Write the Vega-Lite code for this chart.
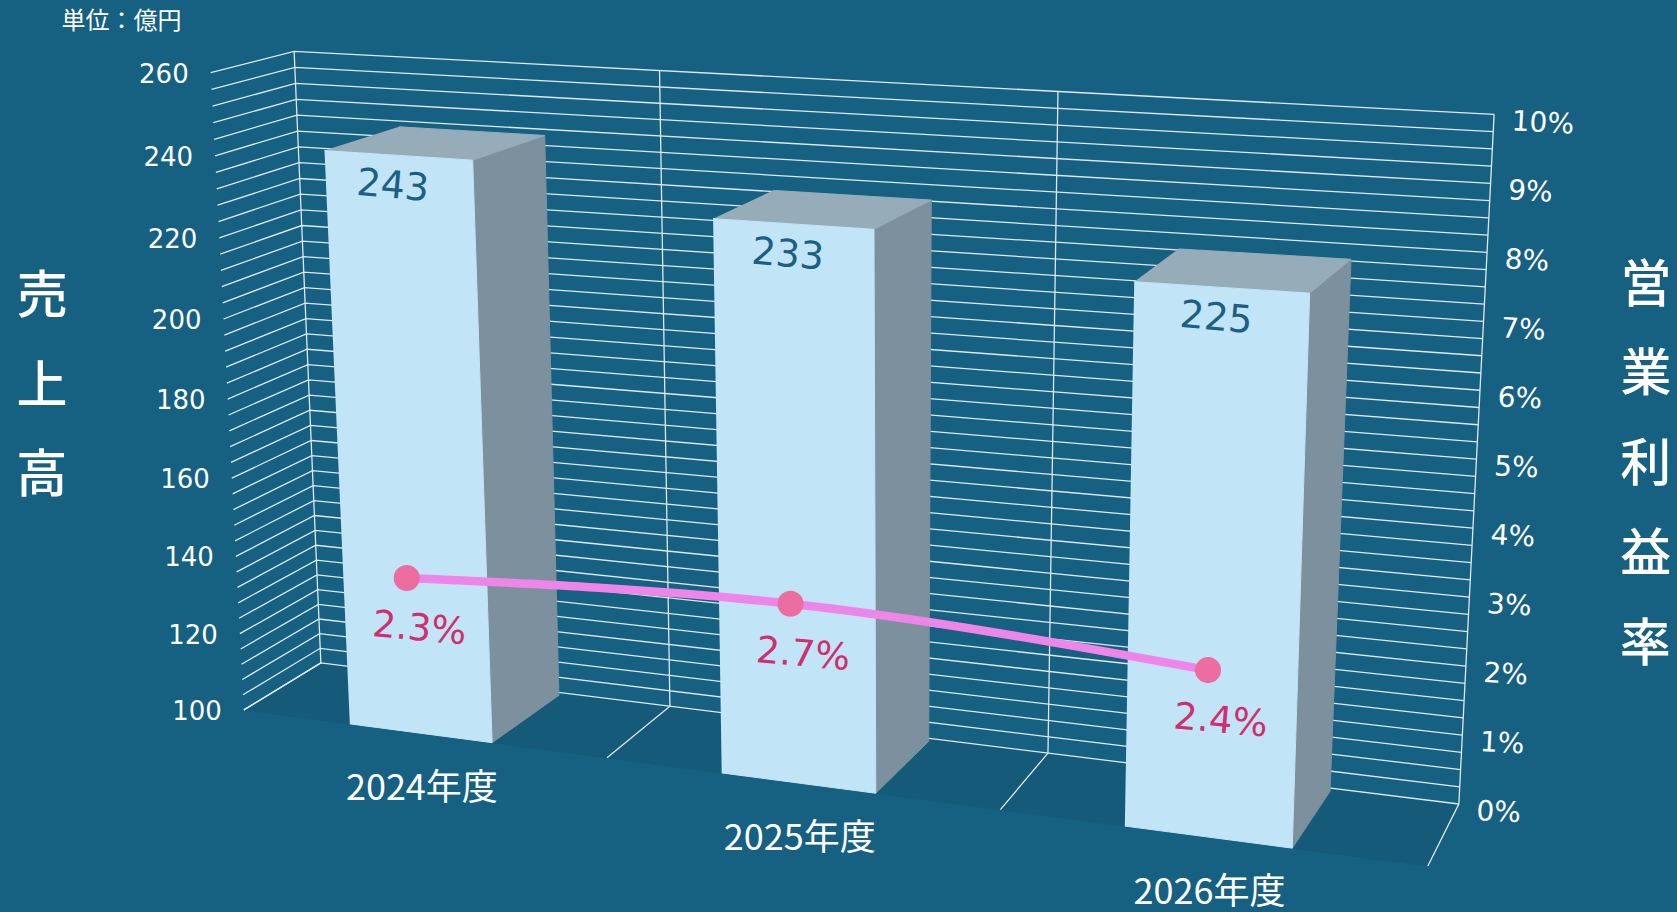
{"$schema":"https://vega.github.io/schema/vega-lite/v6.json","autosize":{"type":"fit","contains":"padding"},"width":1677,"height":912,"padding":0,"background":"#166082","view":{"stroke":null},
"data":{"values":[
{"kind":"floor"},
{"kind":"bar","year":"2024年度","i":0,"sales":243,"margin":2.3,"plotLevel":139.4},
{"kind":"bar","year":"2025年度","i":1,"sales":233,"margin":2.7,"plotLevel":143.4},
{"kind":"bar","year":"2026年度","i":2,"sales":225,"margin":2.4,"plotLevel":138.2},
{"kind":"divider","at":0},{"kind":"divider","at":1},{"kind":"divider","at":2},{"kind":"divider","at":3},
{"kind":"gridLevel","value":100},{"kind":"gridLevel","value":104},{"kind":"gridLevel","value":108},{"kind":"gridLevel","value":112},{"kind":"gridLevel","value":116},{"kind":"gridLevel","value":120},{"kind":"gridLevel","value":124},{"kind":"gridLevel","value":128},{"kind":"gridLevel","value":132},{"kind":"gridLevel","value":136},{"kind":"gridLevel","value":140},{"kind":"gridLevel","value":144},{"kind":"gridLevel","value":148},{"kind":"gridLevel","value":152},{"kind":"gridLevel","value":156},{"kind":"gridLevel","value":160},{"kind":"gridLevel","value":164},{"kind":"gridLevel","value":168},{"kind":"gridLevel","value":172},{"kind":"gridLevel","value":176},{"kind":"gridLevel","value":180},{"kind":"gridLevel","value":184},{"kind":"gridLevel","value":188},{"kind":"gridLevel","value":192},{"kind":"gridLevel","value":196},{"kind":"gridLevel","value":200},{"kind":"gridLevel","value":204},{"kind":"gridLevel","value":208},{"kind":"gridLevel","value":212},{"kind":"gridLevel","value":216},{"kind":"gridLevel","value":220},{"kind":"gridLevel","value":224},{"kind":"gridLevel","value":228},{"kind":"gridLevel","value":232},{"kind":"gridLevel","value":236},{"kind":"gridLevel","value":240},{"kind":"gridLevel","value":244},{"kind":"gridLevel","value":248},{"kind":"gridLevel","value":252},{"kind":"gridLevel","value":256},{"kind":"gridLevel","value":260},
{"kind":"salesTick","value":100},{"kind":"salesTick","value":120},{"kind":"salesTick","value":140},{"kind":"salesTick","value":160},{"kind":"salesTick","value":180},{"kind":"salesTick","value":200},{"kind":"salesTick","value":220},{"kind":"salesTick","value":240},{"kind":"salesTick","value":260},
{"kind":"pctTick","pct":0},{"kind":"pctTick","pct":1},{"kind":"pctTick","pct":2},{"kind":"pctTick","pct":3},{"kind":"pctTick","pct":4},{"kind":"pctTick","pct":5},{"kind":"pctTick","pct":6},{"kind":"pctTick","pct":7},{"kind":"pctTick","pct":8},{"kind":"pctTick","pct":9},{"kind":"pctTick","pct":10},
{"kind":"leftTitle","char":"売","n":0},{"kind":"leftTitle","char":"上","n":1},{"kind":"leftTitle","char":"高","n":2},
{"kind":"rightTitle","char":"営","n":0},{"kind":"rightTitle","char":"業","n":1},{"kind":"rightTitle","char":"利","n":2},{"kind":"rightTitle","char":"益","n":3},{"kind":"rightTitle","char":"率","n":4},
{"kind":"unit","char":"単位：億円"}
]},
"transform":[
{"calculate":"datum.kind=='bar' ? [['front',datum.i+.3,0,100,0],['front',datum.i+.692,0,100,1],['front',datum.i+.692,0,datum.sales,2],['front',datum.i+.3,0,datum.sales,3],['side',datum.i+.692,0,100,0],['side',datum.i+.7,.95,100,1],['side',datum.i+.7,.95,datum.sales,2],['side',datum.i+.692,0,datum.sales,3],['top',datum.i+.3,0,datum.sales,0],['top',datum.i+.692,0,datum.sales,1],['top',datum.i+.7,.95,datum.sales,2],['top',datum.i+.3,.95,datum.sales,3],['salesLabel',datum.i+.5,0,datum.sales,0],['yearLabel',datum.i+.5,0,100,0],['margin',datum.i*1.006+.475,0,datum.plotLevel,datum.i]] : datum.kind=='gridLevel' ? [['grid',0,0,datum.value,0],['grid',0,1,datum.value,1],['grid',3,1,datum.value,2]] : datum.kind=='divider' ? [['grid',datum.at,0,100,0],['grid',datum.at,1,100,1],['grid',datum.at,1,260,2]] : datum.kind=='floor' ? [['floor',0,0,100,0],['floor',3,0,100,1],['floor',3,1,100,2],['floor',0,1,100,3]] : datum.kind=='salesTick' ? [['salesTick',0,0,datum.value,0]] : datum.kind=='pctTick' ? [['pctTick',3,1,100+16*datum.pct,0]] : datum.kind=='leftTitle' ? [['leftTitle',-.515-.018*datum.n,0,201.3-23.05*datum.n,0]] : datum.kind=='rightTitle' ? [['rightTitle',3.35+.0125*datum.n,1,222-20.4*datum.n,0]] : [['unit',-.24,0,271,0]]","as":"verts"},
{"flatten":["verts"],"as":["vert"]},
{"calculate":"datum.vert[0]","as":"part"},
{"calculate":"datum.vert[1]","as":"c"},
{"calculate":"datum.vert[2]","as":"d"},
{"calculate":"datum.vert[3]","as":"v"},
{"calculate":"datum.vert[4]","as":"ord"},
{"calculate":"datum.part+'-'+datum.kind+'-'+datum.value+'-'+datum.at+'-'+datum.i","as":"gid"},
{"calculate":"datum.kind=='pctTick' ? datum.pct+'%' : datum.kind=='bar' ? format(datum.margin,'.1f')+'%' : datum.char","as":"label"},
{"calculate":"(datum.v-100)/160","as":"t"},
{"calculate":"(datum.c/3)/((datum.c/3)+(1.13+.012*datum.t)*(1-datum.c/3))","as":"p"},
{"calculate":"datum.t/(datum.t+(1.05-.05*datum.p*datum.p)*(1-datum.t))","as":"q"},
{"calculate":"((228-31*datum.q)*(1-datum.p)+(1335+29*datum.q)*datum.p)*(1-datum.d)+((300-25*datum.q)*(1-datum.p)+(1364+33*datum.q)*datum.p)*datum.d","as":"sx"},
{"calculate":"((664-596*datum.q)*(1-datum.p)+(810-675*datum.q)*datum.p)*(1-datum.d)+((620-572*datum.q)*(1-datum.p)+(752-645*datum.q)*datum.p)*datum.d","as":"sy"}
],
"encoding":{
"x":{"field":"sx","type":"quantitative","scale":{"domain":[0,1568],"nice":false,"zero":false},"axis":null},
"y":{"field":"sy","type":"quantitative","scale":{"domain":[853,0],"nice":false,"zero":false},"axis":null}
},
"layer":[
{"transform":[{"filter":"datum.part=='floor'"}],"mark":{"type":"line","fill":"#155b79","stroke":"#155b79","strokeWidth":1},"encoding":{"detail":{"field":"gid"},"order":{"field":"ord"}}},
{"transform":[{"filter":"datum.part=='grid'"}],"mark":{"type":"line","stroke":"#dfe9ee","strokeWidth":1.3},"encoding":{"detail":{"field":"gid"},"order":{"field":"ord"}}},
{"transform":[{"filter":"datum.part=='side'"}],"mark":{"type":"line","fill":"#7c909d","stroke":"#7c909d","strokeWidth":1},"encoding":{"detail":{"field":"gid"},"order":{"field":"ord"}}},
{"transform":[{"filter":"datum.part=='top'"}],"mark":{"type":"line","fill":"#96adb9","stroke":"#96adb9","strokeWidth":1},"encoding":{"detail":{"field":"gid"},"order":{"field":"ord"}}},
{"transform":[{"filter":"datum.part=='front'"}],"mark":{"type":"line","fill":"#c1e4f7","stroke":"#c1e4f7","strokeWidth":1},"encoding":{"detail":{"field":"gid"},"order":{"field":"ord"}}},
{"transform":[{"filter":"datum.part=='margin'"}],"mark":{"type":"line","stroke":"#ee86ea","strokeWidth":8.5,"interpolate":"monotone"},"encoding":{"order":{"field":"ord"}}},
{"transform":[{"filter":"datum.part=='margin'"}],"mark":{"type":"circle","size":680,"opacity":1,"color":"#ec6ea0"}},
{"transform":[{"filter":"datum.part=='margin'"}],"mark":{"type":"text","font":"DejaVu Sans","fontSize":37,"angle":5,"dx":17,"dy":50,"color":"#d02f6f","align":"center","baseline":"middle"},"encoding":{"text":{"field":"label"}}},
{"transform":[{"filter":"datum.part=='salesLabel'"}],"mark":{"type":"text","font":"DejaVu Sans","fontSize":38,"angle":5,"dx":-4,"dy":32,"color":"#1a6085","align":"center","baseline":"middle"},"encoding":{"text":{"field":"sales"}}},
{"transform":[{"filter":"datum.part=='yearLabel'"}],"mark":{"type":"text","font":"Noto Sans CJK JP","fontSize":36,"dy":56,"color":"#ffffff","align":"center","baseline":"middle"},"encoding":{"text":{"field":"year"}}},
{"transform":[{"filter":"datum.part=='salesTick'"}],"mark":{"type":"text","font":"DejaVu Sans","fontSize":26,"dx":-22,"dy":2,"color":"#ffffff","align":"right","baseline":"middle"},"encoding":{"text":{"field":"value"}}},
{"transform":[{"filter":"datum.part=='pctTick'"}],"mark":{"type":"text","font":"DejaVu Sans","fontSize":28,"angle":3,"dx":18,"dy":7,"color":"#ffffff","align":"left","baseline":"middle"},"encoding":{"text":{"field":"label"}}},
{"transform":[{"filter":"datum.part=='leftTitle'||datum.part=='rightTitle'"}],"mark":{"type":"text","font":"Noto Sans CJK JP","fontSize":51,"fontWeight":500,"color":"#ffffff","align":"center","baseline":"middle"},"encoding":{"text":{"field":"label"}}},
{"transform":[{"filter":"datum.part=='unit'"}],"mark":{"type":"text","font":"Noto Sans CJK JP","fontSize":24,"color":"#ffffff","align":"center","baseline":"middle"},"encoding":{"text":{"field":"label"}}}
]}
